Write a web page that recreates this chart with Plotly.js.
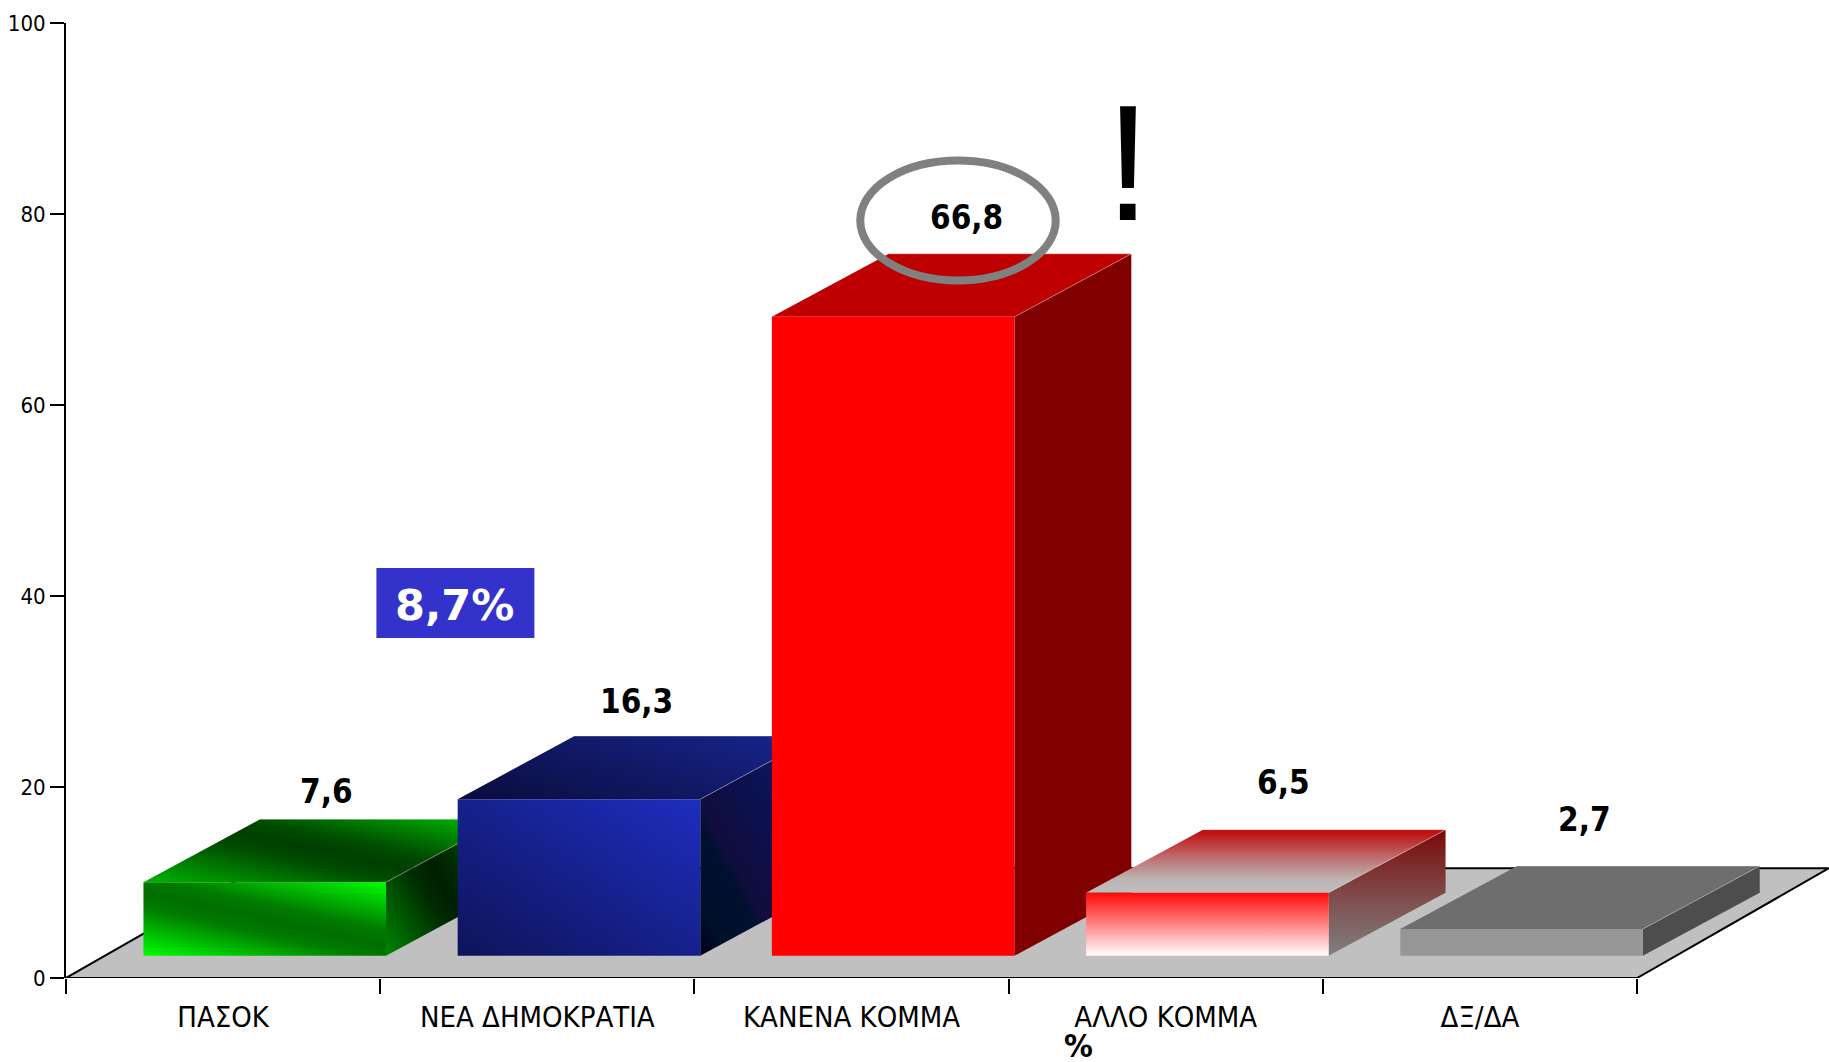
<!DOCTYPE html>
<html>
<head>
<meta charset="utf-8">
<script src="https://cdn.plot.ly/plotly-3.0.1.min.js"></script>
<style>html,body{margin:0;padding:0;background:#fff;overflow:hidden}#chart{width:1829px;height:1062px}</style>
</head>
<body>
<div id="chart"></div>
<script>
// ---- chart data ----
const categories = ['ΠΑΣΟΚ', 'ΝΕΑ ΔΗΜΟΚΡΑΤΙΑ', 'ΚΑΝΕΝΑ ΚΟΜΜΑ', 'ΑΛΛΟ ΚΟΜΜΑ', 'ΔΞ/ΔΑ'];
const values = [7.6, 16.3, 66.8, 6.5, 2.7];
const yTicks = [0, 20, 40, 60, 80, 100];
const noteText = '8,7%';
const axisName = '%';

// ---- 3D look, in axis units ----
const FLOOR_DX = 0.611, FLOOR_DY = 11.5;
const BAR_LEFT = 0.2465, BAR_WIDTH = 0.772;
const BAR_BASE = 2.33, TOP_LIFT = 0.1;
const DEPTH_DX = 0.372, DEPTH_DY = 6.6;
const labelShiftX = [0.197, 0.183, 0.232, 0.242, 0.200];
const labelShiftY = [9.6, 10.3, 10.5, 11.6, 11.6];

const frontFill = ['#00A000', '#17238F', '#FF0000', '#FF8080', '#969696'];
const topFill   = ['#007000', '#101870', '#BE0000', '#BE7A7A', '#6E6E6E'];
const sideFill  = ['#004000', '#0B1150', '#800000', '#804040', '#4D4D4D'];

// gradients: n = direction in screen px, half = half length in px around face centre
const gradients = {
  '0front': {n:[0.215,-0.977], half:62, stops:[[0,'#00FF00'],[0.38,'#007C00'],[0.5,'#006E00'],[0.62,'#007C00'],[1,'#00FF00']]},
  '0top':   {n:[0.21,-0.978], half:68, stops:[[0,'#00B400'],[0.38,'#004E00'],[0.5,'#003E00'],[0.62,'#004E00'],[1,'#00C000']]},
  '0side':  {n:[0.87,-0.5], half:85, stops:[[0,'#008800'],[0.38,'#002C00'],[0.5,'#002000'],[0.62,'#002C00'],[1,'#008800']]},
  '1front': {n:[0.54,-0.84], half:131, stops:[[0,'#0E1459'],[1,'#1E2DBE']]},
  '1top':   {n:[0.3,-0.95], half:84, stops:[[0,'#0A0C3C'],[1,'#182690']]},
  '1side':  {n:[0.87,-0.5], half:107, stops:[[0,'#000018'],[0.13,'#00102A'],[0.3,'#001030'],[0.36,'#110D3C'],[0.6,'#0B1150'],[1,'#111C70']]},
  '3front': {vertical:true, stops:[[0,'#FF0808'],[1,'#FFFFFF']]},
  '3top':   {vertical:true, stops:[[0,'#BE0808'],[0.5,'#BE7A7A'],[0.8,'#BDB5B5'],[1,'#BDBDBD']]},
  '3side':  {vertical:true, stops:[[0,'#7A0808'],[0.5,'#804848'],[1,'#808080']]}
};

const NARROW = '"DejaVu Sans Condensed", "DejaVu Sans", sans-serif';
const traces = [];
const gradientByTrace = {};

function poly(xs, ys, fill, edge) {
  traces.push({
    type: 'scatter', mode: 'lines', x: [...xs, xs[0]], y: [...ys, ys[0]],
    fill: 'toself', fillcolor: fill,
    line: edge || {width: 0, color: fill},
    hoverinfo: 'skip', showlegend: false, cliponaxis: false
  });
  return traces.length - 1;
}

// floor
const nCats = categories.length;
poly([0, nCats, nCats + FLOOR_DX, FLOOR_DX], [0, 0, FLOOR_DY, FLOOR_DY], '#C0C0C0', {width: 2, color: '#000000'});

// boxes, back to front
values.forEach((v, i) => {
  const x0 = i + BAR_LEFT, x1 = x0 + BAR_WIDTH;
  const yb = BAR_BASE, yt = BAR_BASE + v + TOP_LIFT;
  const side = poly([x1, x1 + DEPTH_DX, x1 + DEPTH_DX, x1], [yb, yb + DEPTH_DY, yt + DEPTH_DY, yt], sideFill[i]);
  const top = poly([x0, x1, x1 + DEPTH_DX, x0 + DEPTH_DX], [yt, yt, yt + DEPTH_DY, yt + DEPTH_DY], topFill[i]);
  traces.push({
    type: 'scatter', mode: 'lines',
    x: [x1, x1 + DEPTH_DX, x0 + DEPTH_DX], y: [yt, yt + DEPTH_DY, yt + DEPTH_DY],
    line: {width: 0.8, color: 'rgba(255,255,255,0.4)'},
    hoverinfo: 'skip', showlegend: false, cliponaxis: false
  });
  const front = poly([x0, x1, x1, x0], [yb, yb, yt, yt], frontFill[i]);
  gradientByTrace[side] = i + 'side';
  gradientByTrace[top] = i + 'top';
  gradientByTrace[front] = i + 'front';
});

const Y0 = 978, PXY = 9.55, X0 = 65.5, PXX = 314.3;
const dataX = p => (p - X0) / PXX;
const dataY = p => (Y0 - p) / PXY;

const annotations = values.map((v, i) => ({
  x: i + BAR_LEFT + BAR_WIDTH / 2 + labelShiftX[i],
  y: BAR_BASE + v + labelShiftY[i],
  xref: 'x', yref: 'y', xanchor: 'center', yanchor: 'middle', showarrow: false,
  text: '<b>' + String(v).replace('.', ',') + '</b>',
  font: {family: NARROW, size: 33, color: '#000000'}
}));
annotations.push({
  x: dataX(454), y: dataY(605), xref: 'x', yref: 'y', showarrow: false,
  xanchor: 'center', yanchor: 'middle',
  text: '<b>' + noteText + '</b>',
  font: {family: '"DejaVu Sans", sans-serif', size: 43, color: '#FFFFFF'}
});
annotations.push({
  x: dataX(1128), y: dataY(163), xref: 'x', yref: 'y', showarrow: false,
  xanchor: 'center', yanchor: 'middle', text: '!',
  font: {family: '"Liberation Sans", Arial, sans-serif', size: 165, color: '#000000'}
});
annotations.push({
  x: dataX(1078), y: (Y0 - 1046) / (Y0 - 23), xref: 'x', yref: 'paper', showarrow: false,
  xanchor: 'center', yanchor: 'middle', text: '<b>' + axisName + '</b>',
  font: {family: NARROW, size: 32, color: '#000000'}
});

const layout = {
  width: 1829, height: 1062, autosize: false,
  margin: {l: X0, r: 0, t: 23, b: 1062 - Y0, pad: 0},
  paper_bgcolor: '#FFFFFF', plot_bgcolor: '#FFFFFF',
  showlegend: false, hovermode: false,
  xaxis: {
    range: [0, (1829 - X0) / PXX], showgrid: false, zeroline: false, showline: false,
    tickmode: 'array', tickvals: categories.map((c, i) => i + 0.5), ticktext: categories,
    ticks: 'outside', ticklen: 13, tickwidth: 1, tickcolor: 'rgba(0,0,0,0)',
    tickfont: {family: NARROW, size: 29, color: '#000000'},
    minor: {tick0: 0, dtick: 1, ticks: 'outside', ticklen: 15, tickwidth: 2, tickcolor: '#000000', showgrid: false}
  },
  yaxis: {
    range: [0, 100], tickmode: 'array', tickvals: yTicks, ticktext: yTicks.map(String),
    showgrid: false, zeroline: false, showline: true, linewidth: 2, linecolor: '#000000',
    ticks: 'outside', ticklen: 14, tickwidth: 2, tickcolor: '#000000',
    tickfont: {family: NARROW, size: 22, color: '#000000'}
  },
  annotations,
  shapes: [{
    type: 'rect', layer: 'above', xref: 'x', yref: 'y',
    x0: dataX(376), x1: dataX(534), y0: dataY(638), y1: dataY(568),
    line: {width: 0}, fillcolor: '#3333CC'
  }, {
    type: 'circle', layer: 'above', xref: 'x', yref: 'y',
    x0: dataX(860), x1: dataX(1055.5), y0: dataY(280.5), y1: dataY(160.5),
    line: {color: '#808080', width: 8}, fillcolor: 'rgba(0,0,0,0)'
  }]
};

const gd = document.getElementById('chart');
Plotly.newPlot(gd, traces, layout, {displayModeBar: false, responsive: false}).then(() => {
  const svgNS = 'http://www.w3.org/2000/svg';
  const defs = gd.querySelector('svg.main-svg defs');
  const groups = gd.querySelectorAll('.scatterlayer .trace');
  Object.keys(gradientByTrace).forEach(idx => {
    const g = gradients[gradientByTrace[idx]];
    if (!g) return;
    const path = groups[idx].querySelector('path.js-fill');
    if (!path) return;
    const b = path.getBBox();
    const cx = b.x + b.width / 2, cy = b.y + b.height / 2;
    const n = g.vertical ? [0, 1] : g.n;
    const half = g.vertical ? b.height / 2 : g.half;
    const el = document.createElementNS(svgNS, 'linearGradient');
    el.setAttribute('id', 'face' + idx);
    el.setAttribute('gradientUnits', 'userSpaceOnUse');
    el.setAttribute('x1', cx - n[0] * half);
    el.setAttribute('y1', cy - n[1] * half);
    el.setAttribute('x2', cx + n[0] * half);
    el.setAttribute('y2', cy + n[1] * half);
    g.stops.forEach(s => {
      const st = document.createElementNS(svgNS, 'stop');
      st.setAttribute('offset', s[0]);
      st.setAttribute('stop-color', s[1]);
      el.appendChild(st);
    });
    defs.appendChild(el);
    path.style.fill = 'url(#face' + idx + ')';
  });
});
</script>
</body>
</html>
